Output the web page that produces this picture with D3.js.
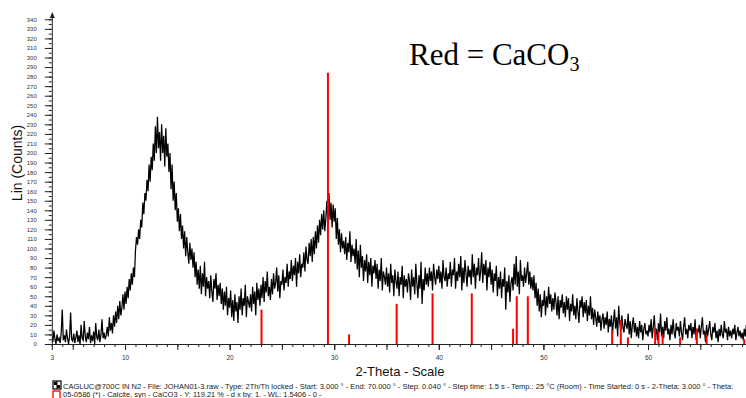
<!DOCTYPE html>
<html>
<head>
<meta charset="utf-8">
<script src="https://cdn.jsdelivr.net/npm/d3@7/dist/d3.min.js"></script>
<style>
html,body{margin:0;padding:0;background:#fff;}
svg{display:block;}
</style>
</head>
<body>
<script>
// ---- DATA ----
const thetaStart = 3.0;
const thetaStep = 0.1;
// measured counts, one row per degree (3.0 ... 69.9), then 70.0
const counts = [
  8, 2, 14, 5, 0, 10, 3, 6, 1, 12,
  36, 4, 9, 2, 15, 6, 0, 8, 33, 5,
  3, 11, 1, 7, 14, 2, 9, 0, 20, 6,
  4, 24, 8, 2, 12, 5, 18, 1, 9, 3,
  13, 0, 22, 7, 4, 15, 2, 10, 26, 6,
  12, 5, 9, 18, 8, 28, 14, 22, 11, 30,
  18, 34, 22, 40, 26, 45, 30, 38, 52, 36,
  55, 42, 60, 48, 68, 56, 74, 62, 80, 70,
  98, 112, 104, 120, 110, 130, 122, 148, 136, 158,
  150, 172, 160, 188, 170, 196, 182, 210, 192, 228,
  200, 238, 205, 222, 192, 230, 200, 218, 186, 226,
  196, 210, 180, 200, 162, 188, 150, 170, 140, 158,
  128, 142, 118, 136, 110, 124, 100, 118, 92, 112,
  96, 84, 106, 88, 100, 80, 96, 70, 86, 62,
  78, 58, 82, 52, 74, 60, 86, 50, 70, 58,
  66, 48, 72, 55, 44, 68, 58, 74, 46, 62,
  50, 64, 42, 58, 36, 55, 40, 60, 30, 48,
  38, 56, 28, 46, 24, 52, 34, 44, 22, 50,
  36, 58, 30, 48, 40, 62, 28, 50, 44, 38,
  52, 34, 60, 42, 55, 30, 64, 46, 58, 40,
  62, 48, 70, 44, 66, 54, 76, 50, 60, 46,
  68, 52, 74, 58, 64, 80, 55, 72, 48, 66,
  62, 78, 56, 70, 64, 84, 60, 76, 68, 88,
  66, 82, 72, 90, 60, 86, 74, 94, 70, 84,
  80, 96, 76, 102, 88, 84, 106, 92, 110, 86,
  112, 94, 118, 100, 124, 106, 130, 114, 136, 120,
  140, 118, 132, 150, 124, 158, 130, 148, 122, 146,
  128, 142, 110, 132, 104, 120, 96, 116, 100, 108,
  94, 112, 88, 106, 96, 118, 86, 104, 92, 100,
  84, 110, 78, 98, 70, 104, 80, 92, 66, 88,
  76, 94, 64, 86, 72, 90, 60, 82, 74, 88,
  68, 84, 58, 78, 66, 90, 56, 76, 70, 62,
  80, 60, 74, 54, 84, 64, 72, 50, 78, 66,
  58, 76, 50, 70, 62, 82, 48, 72, 60, 68,
  54, 74, 66, 46, 78, 60, 70, 52, 84, 64,
  48, 72, 58, 86, 42, 68, 56, 80, 62, 74,
  60, 80, 66, 76, 56, 84, 70, 62, 78, 68,
  82, 64, 76, 58, 88, 70, 66, 80, 60, 74,
  68, 86, 60, 78, 72, 90, 58, 76, 66, 84,
  70, 92, 56, 80, 64, 88, 74, 60, 82, 70,
  78, 62, 94, 70, 84, 58, 80, 72, 90, 66,
  76, 96, 64, 84, 72, 88, 56, 80, 70, 86,
  62, 78, 54, 74, 66, 82, 50, 70, 58, 76,
  48, 68, 60, 80, 36, 66, 54, 72, 44, 64,
  70, 56, 84, 62, 92, 60, 76, 52, 88, 66,
  72, 60, 80, 64, 74, 86, 62, 76, 58, 70,
  56, 72, 48, 64, 40, 58, 34, 52, 28, 46,
  40, 56, 30, 50, 38, 60, 42, 52, 34, 48,
  36, 54, 44, 30, 50, 26, 46, 38, 52, 32,
  44, 28, 50, 36, 48, 24, 42, 34, 52, 30,
  40, 26, 48, 34, 22, 46, 38, 50, 28, 44,
  32, 46, 24, 40, 30, 50, 26, 38, 20, 36,
  28, 18, 34, 22, 30, 14, 26, 32, 16, 28,
  20, 34, 12, 26, 18, 30, 10, 24, 36, 16,
  28, 8, 40, 22, 14, 30, 18, 12, 26, 20,
  16, 32, 10, 24, 6, 20, 28, 12, 22, 8,
  18, 6, 24, 12, 20, 4, 16, 22, 10, 14,
  8, 20, 12, 26, 6, 18, 30, 10, 16, 4,
  22, 12, 32, 8, 18, 6, 24, 14, 28, 10,
  16, 4, 20, 10, 26, 12, 6, 22, 14, 18,
  8, 24, 12, 4, 18, 28, 10, 16, 6, 20,
  14, 22, 6, 18, 10, 26, 4, 16, 12, 20,
  6, 18, 28, 10, 14, 2, 20, 8, 16, 24,
  10, 4, 18, 12, 22, 6, 14, 2, 16, 8,
  20, 10, 6, 24, 12, 16, 4, 18, 8, 14,
  6, 16, 10, 20, 4, 12, 18, 8, 14, 6,
  12, 4, 16, 8, 20, 10, 6, 14, 4, 10,
  8
];
// Calcite reference pattern (2-theta, scaled counts)
const stickTheta = [23.05, 29.40, 31.42, 35.97, 39.40, 43.15, 47.10, 47.45, 48.51, 56.57, 57.40, 58.08, 60.68, 61.00, 61.40, 63.07, 64.67, 65.60, 69.20];
const stickCounts = [36, 284, 10, 42, 53, 53, 16, 50, 50, 14, 25, 7, 16, 13, 10, 7, 16, 10, 5];

const xLabelTicks = [3, 10, 20, 30, 40, 50, 60];
const yTicks = d3.range(0, 341, 10);

const titleText = "Red = CaCO";
const titleSub = "3";
const xTitle = "2-Theta - Scale";
const yTitle = "Lin (Counts)";
const legend1 = "CAGLUC@700C IN N2 - File: JOHAN01-3.raw - Type: 2Th/Th locked - Start: 3.000 \u00b0 - End: 70.000 \u00b0 - Step: 0.040 \u00b0 - Step time: 1.5 s - Temp.: 25 \u00b0C (Room) - Time Started: 0 s - 2-Theta: 3.000 \u00b0 - Theta:";
const legend2 = "05-0586 (*) - Calcite, syn - CaCO3 - Y: 119.21 % - d x by: 1. - WL: 1.5406 - 0 -";

// ---- CHART ----
const W = 746, H = 398;
const svg = d3.select("body").append("svg").attr("width", W).attr("height", H)
  .style("font-family", "'Liberation Sans', Arial, sans-serif");

const x = d3.scaleLinear().domain([3, 70]).range([51.8, 752.6]);
const y = d3.scaleLinear().domain([0, 340]).range([344, 19.3]);

const series = counts.map((c, i) => ({ t: thetaStart + i * thetaStep, c }));

svg.append("defs").append("clipPath").attr("id", "plot")
  .append("rect").attr("x", 52).attr("y", 0).attr("width", W - 52).attr("height", 344);

svg.append("path")
  .datum(series)
  .attr("clip-path", "url(#plot)")
  .attr("fill", "none")
  .attr("stroke", "#000")
  .attr("stroke-width", 1.25)
  .attr("d", d3.line().x(d => x(d.t)).y(d => y(d.c)));

svg.append("g").selectAll("line")
  .data(stickTheta.map((t, i) => ({ t, c: stickCounts[i] })))
  .join("line")
  .attr("x1", d => x(d.t)).attr("x2", d => x(d.t))
  .attr("y1", y(0)).attr("y2", d => y(d.c))
  .attr("stroke", "#ff0000").attr("stroke-width", 2);

// X axis
const gx = svg.append("g").attr("transform", `translate(0,${y(0)})`);
gx.call(d3.axisBottom(x).tickValues(d3.range(3, 71, 1)).tickSize(3).tickFormat(""));
const gx5 = svg.append("g").attr("transform", `translate(0,${y(0)})`);
gx5.call(d3.axisBottom(x).tickValues(d3.range(5, 71, 5)).tickSize(6).tickFormat(""));
const gx2 = svg.append("g").attr("transform", `translate(0,${y(0)})`);
gx2.call(d3.axisBottom(x).tickValues(xLabelTicks).tickSize(6).tickPadding(5).tickFormat(d3.format("d")));
[gx, gx5, gx2].forEach(g => {
  g.select(".domain").attr("stroke", "#222").attr("stroke-width", 1);
  g.selectAll(".tick line").attr("stroke", "#222");
  g.selectAll("text").attr("font-size", 6.5).attr("fill", "#333").attr("font-family", "'Liberation Sans', Arial, sans-serif");
});
gx.select(".domain").attr("d", `M${x(3)},0.5H${W}`);
gx5.select(".domain").remove();
gx2.select(".domain").remove();

// Y axis
const gy = svg.append("g").attr("transform", `translate(${x(3)},0)`);
gy.call(d3.axisLeft(y).tickValues(d3.range(0, 341, 5)).tickSize(3).tickFormat(""));
const gy2 = svg.append("g").attr("transform", `translate(${x(3)},0)`);
gy2.call(d3.axisLeft(y).tickValues(yTicks).tickSize(7).tickPadding(8).tickFormat(d3.format("d")));
[gy, gy2].forEach(g => {
  g.selectAll(".tick line").attr("stroke", "#222");
  g.selectAll("text").attr("font-size", 6).attr("fill", "#333").attr("font-family", "'Liberation Sans', Arial, sans-serif");
});
gy.select(".domain").attr("stroke", "#222").attr("d", `M0.5,${y(0)}V14`);
gy2.select(".domain").remove();
svg.append("path").attr("d", `M${x(3) + 0.5 - 2.5},18 L${x(3) + 0.5},12 L${x(3) + 0.5 + 2.5},18 Z`).attr("fill", "#222");

// Axis titles
svg.append("text").attr("x", 400).attr("y", 376).attr("text-anchor", "middle")
  .attr("font-size", 13).attr("fill", "#111").text(xTitle);
svg.append("text").attr("transform", "translate(22,163) rotate(-90)").attr("text-anchor", "middle")
  .attr("font-size", 14).attr("fill", "#111").text(yTitle);

// Title
const tt = svg.append("text").attr("x", 409).attr("y", 65)
  .attr("font-family", "'Liberation Serif', 'Times New Roman', serif")
  .attr("font-size", 31).attr("fill", "#000");
tt.append("tspan").text(titleText);
tt.append("tspan").attr("font-size", 20).attr("dy", 6).text(titleSub);

// Legend
const lg = svg.append("g");
const ic1 = lg.append("g").attr("transform", "translate(53,381)");
ic1.append("rect").attr("width", 8).attr("height", 8).attr("fill", "#fff").attr("stroke", "#000").attr("stroke-width", 1.2);
ic1.append("rect").attr("x", 1).attr("y", 1).attr("width", 3).attr("height", 3).attr("fill", "#000");
ic1.append("rect").attr("x", 4).attr("y", 4).attr("width", 3).attr("height", 3).attr("fill", "#000");
ic1.append("line").attr("x1", 4).attr("x2", 4).attr("y1", 0).attr("y2", 8).attr("stroke", "#000");
const ic2 = lg.append("g").attr("transform", "translate(53,391)");
ic2.append("rect").attr("width", 7).attr("height", 9).attr("fill", "#fff").attr("stroke", "#ff0000").attr("stroke-width", 1.3);

const t1 = lg.append("text").attr("x", 63).attr("y", 389).attr("font-size", 8).attr("fill", "#222").text(legend1);
const nat1 = t1.node().getComputedTextLength();
const fs = 8 * 672 / nat1;
t1.attr("font-size", fs);
lg.append("text").attr("x", 63).attr("y", 397).attr("font-size", fs).attr("fill", "#222").text(legend2);
</script>
</body>
</html>
